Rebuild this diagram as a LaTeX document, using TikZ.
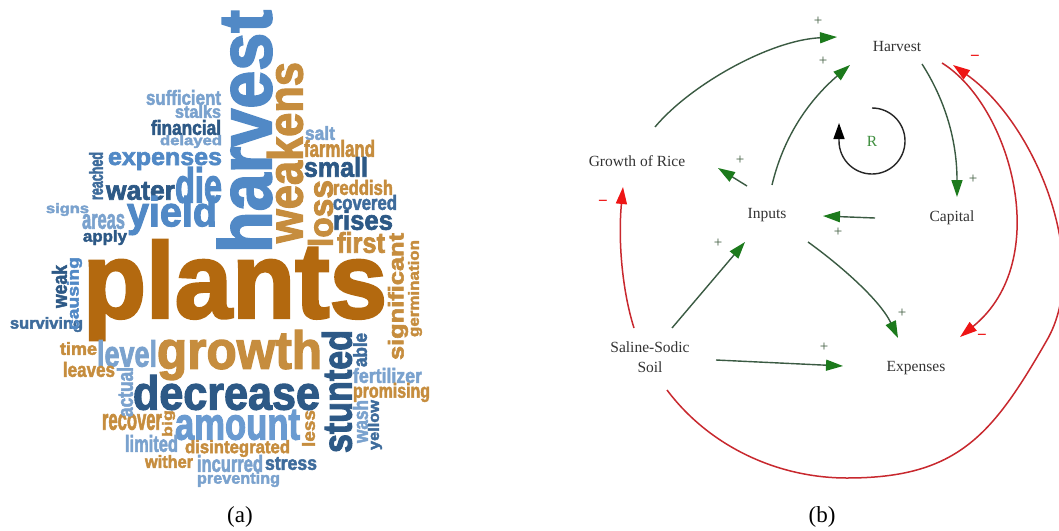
\documentclass[tikz,border=0pt]{standalone}
\usepackage{fontspec}
\usepackage{graphicx}
\setmainfont{Liberation Serif}
\newfontfamily\cloudfont[FakeBold=2.5]{Liberation Sans}
\usetikzlibrary{arrows.meta,calc}

\definecolor{cBrown}{HTML}{B3690F}
\definecolor{cOchre}{HTML}{C68D3E}
\definecolor{cDark}{HTML}{2D5986}
\definecolor{cDM}{HTML}{3E6C9C}
\definecolor{cMid}{HTML}{5189C6}
\definecolor{cLight}{HTML}{7AA2CE}
\definecolor{cAmt}{HTML}{6A9BD1}
\definecolor{labelgray}{HTML}{333333}
\definecolor{linegreen}{HTML}{3A5A42}
\definecolor{headgreen}{HTML}{1C7A1C}
\definecolor{linered}{HTML}{C8282E}
\definecolor{headred}{HTML}{EE1515}
\definecolor{signgray}{HTML}{3D5A3D}
\definecolor{loopgreen}{HTML}{3E8E3E}

% one word of the cloud: [rotation]{cx}{cy}{length}{thickness}{colour}{word}
\newcommand\cw[7][0]{\node[cloudword,text=#6,rotate=#1] (w-#7) at (#2,#3)
  {\resizebox*{#4pt}{#5pt}{\cloudfont\bfseries #7}};}

\begin{document}
\begin{tikzpicture}[x=1pt,y=-1pt,
  cloudword/.style={inner sep=0pt,outer sep=0pt},
  lbl/.style={font=\fontsize{15.5}{20}\selectfont,text=labelgray,inner sep=0pt,align=center},
  caption/.style={font=\fontsize{23}{23}\selectfont,text=black,inner sep=0pt},
  possign/.style={font=\fontsize{15}{15}\selectfont,text=signgray,inner sep=0pt},
  negsign/.style={font=\fontsize{17}{17}\selectfont\bfseries,text=headred,inner sep=0pt},
  poslink/.style={draw=linegreen,line width=1.4pt,
    -{Triangle[length=17pt,width=11pt,color=headgreen]}},
  neglink/.style={draw=linered,line width=1.5pt,
    -{Triangle[length=17pt,width=11pt,color=headred]}},
  loopline/.style={draw=black!85,line width=1.4pt,
    -{Triangle[length=16pt,width=11pt,color=black]}}]
\useasboundingbox[fill=white] (0,0) rectangle (1059,530);

% ---------------- word cloud ----------------
\cw{183.5}{97.5}{75}{15}{cLight}{sufficient}
\cw{198}{111.5}{46}{13}{cLight}{stalks}
\cw{186}{127.5}{70}{15}{cDark}{financial}
\cw{191}{141.5}{62}{13}{cLight}{delayed}
\cw{165}{161}{114}{18}{cMid}{expenses}
\cw{140.5}{191}{69}{18}{cDark}{water}
\cw{198.5}{185}{47}{36}{cMid}{die}
\cw{67.5}{209.5}{43}{13}{cLight}{signs}
\cw{103.5}{221.5}{43}{15}{cLight}{areas}
\cw{105}{237.5}{44}{15}{cDark}{apply}
\cw{172}{215.5}{90}{39}{cMid}{yield}
\cw{320}{133}{30}{14}{cLight}{salt}
\cw{339.5}{148.5}{71}{17}{cOchre}{farmland}
\cw{336}{167}{64}{20}{cDark}{small}
\cw{363}{187.5}{60}{15}{cOchre}{reddish}
\cw{365}{202.5}{64}{15}{cDM}{covered}
\cw{363}{220}{60}{20}{cDark}{rises}
\cw{361}{242.5}{48}{21}{cOchre}{first}
\cw{235}{290}{304}{100}{cBrown}{plants}
\cw{239.5}{355}{165}{50}{cOchre}{growth}
\cw{226.5}{392.5}{187}{35}{cDark}{decrease}
\cw{237.5}{425}{125}{30}{cAmt}{amount}
\cw{387.5}{375.5}{69}{15}{cLight}{fertilizer}
\cw{391.5}{392.5}{77}{19}{cOchre}{promising}
\cw{46.5}{324.5}{73}{15}{cDM}{surviving}
\cw{78.5}{348.5}{37}{13}{cOchre}{time}
\cw{127}{353.5}{60}{27}{cLight}{level}
\cw{89}{369.5}{52}{15}{cOchre}{leaves}
\cw{132}{422}{60}{16}{cOchre}{recover}
\cw{151.5}{443.5}{53}{17}{cLight}{limited}
\cw{237.5}{448.5}{105}{17}{cOchre}{disintegrated}
\cw{169}{461.5}{48}{13}{cOchre}{wither}
\cw{230}{463.5}{66}{17}{cLight}{incurred}
\cw{291}{463.5}{52}{13}{cDM}{stress}
\cw{238.5}{479.5}{83}{15}{cLight}{preventing}
% vertical words, read from bottom to top
\cw[90]{96}{176}{48}{14}{cDM}{reached}
\cw[90]{244.5}{131.5}{243}{55}{cMid}{harvest}
\cw[90]{285}{152.5}{181}{36}{cOchre}{weakens}
\cw[90]{320.5}{213.5}{67}{25}{cOchre}{loss}
\cw[90]{337}{391.5}{123}{30}{cDark}{stunted}
\cw[90]{360}{350}{34}{14}{cDM}{able}
\cw[90]{398}{296.5}{127}{20}{cOchre}{significant}
\cw[90]{415}{288.5}{97}{14}{cOchre}{germination}
\cw[90]{360.5}{421.5}{43}{15}{cLight}{wash}
\cw[90]{375}{425}{50}{14}{cDM}{yellow}
\cw[90]{308.5}{428.5}{37}{13}{cOchre}{less}
\cw[90]{74.5}{293.5}{73}{15}{cMid}{causing}
\cw[90]{59.5}{286.5}{43}{15}{cDark}{weak}
\cw[90]{125}{392}{50}{16}{cLight}{actual}
\cw[90]{168.5}{423.5}{27}{13}{cOchre}{big}

\node[caption] (capa) at (240,517) {(a)};

% ---------------- causal loop diagram ----------------
\node[lbl] (harv) at (897,47) {Harvest};
\node[lbl] (grow) at (637,161) {Growth of Rice};
\node[lbl] (inp) at (767,215) {Inputs};
\node[lbl] (cap) at (952,218) {Capital};
\node[lbl] (sal) at (650,357) {Saline-Sodic\\Soil};
\node[lbl] (exp) at (916,368) {Expenses};
\node[lbl,text=loopgreen] (R) at (872,141) {R};

% reinforcing loop marker
\draw[loopline] ($(R)+(0,-33)$) arc[start angle=-90,end angle=180,radius=33] -- ++(0,-18);

% positive links
\draw[poslink] ($(grow)+(18,-34)$) .. controls (690,85) and (770,40) .. ($(harv)+(-60,-10)$);
\draw[poslink] ($(inp)+(5,-30)$) .. controls (785,130) and (815,95) .. ($(harv)+(-47,18)$);
\draw[poslink] ($(inp)+(-20,-29)$) -- ($(grow)+(81,7)$);
\draw[poslink] ($(cap)+(-77,0)$) -- ($(inp)+(56,1)$);
\draw[poslink] ($(harv)+(25,17)$) .. controls (945,100) and (957,140) .. ($(cap)+(5,-21)$);
\draw[poslink] ($(inp)+(41,27)$) .. controls (840,265) and (880,300) .. ($(exp)+(-18,-30)$);
\draw[poslink] ($(sal)+(22,-29)$) -- ($(inp)+(-22,27)$);
\draw[poslink] ($(sal)+(66,3)$) -- ($(exp)+(-73,-2)$);

% negative links
\draw[neglink] ($(sal)+(-16,-29)$) .. controls (622,290) and (618,240) .. ($(grow)+(-14,26)$);
\draw[neglink] ($(sal)+(17,33)$) .. controls (709,446) and (777,478) .. (847,478)
  .. controls (957,478) and (992,436) .. (1047,340)
  .. controls (1092,262) and (1035,123) .. ($(harv)+(56,18)$);
\draw[neglink] ($(harv)+(45,16)$) .. controls (1010,105) and (1055,260) .. ($(exp)+(44,-31)$);

% polarity signs
\node[possign] (p1) at (818,21) {+};
\node[possign] (p2) at (823,61) {+};
\node[possign] (p3) at (740,160) {+};
\node[possign] (p4) at (838,232) {+};
\node[possign] (p5) at (973,179) {+};
\node[possign] (p6) at (902,313) {+};
\node[possign] (p7) at (718,243) {+};
\node[possign] (p8) at (824,347) {+};
\node[negsign] (m1) at (603,203) {−};
\node[negsign] (m2) at (975,58) {−};
\node[negsign] (m3) at (982,337) {−};

\node[caption] (capb) at (822,517) {(b)};
\end{tikzpicture}
\end{document}
